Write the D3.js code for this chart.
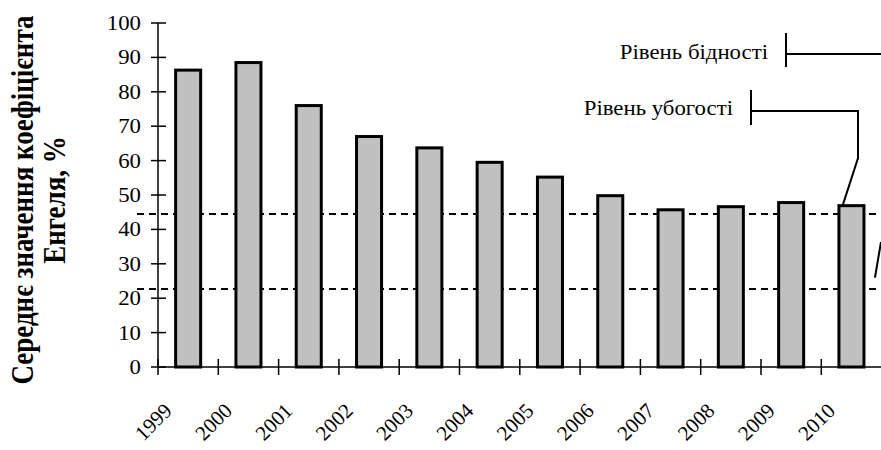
<!DOCTYPE html>
<html>
<head>
<meta charset="utf-8">
<script src="https://cdn.jsdelivr.net/npm/d3@7"></script>
</head>
<body style="margin:0; background:#fff">
<svg id="chart" width="881" height="450"></svg>
<script>
// data
let years = ["1999","2000","2001","2002","2003","2004","2005","2006","2007","2008","2009","2010"];
let engel = [86.3, 88.5, 76, 67, 63.7, 59.5, 55.2, 49.8, 45.7, 46.6, 47.8, 46.9];
let yTicks = [0,10,20,30,40,50,60,70,80,90,100];
let levels = [44.5, 22.7]; // dashed lines
let levelNames = ["Рівень бідності", "Рівень убогості"];

let serif = "'Liberation Serif', 'Times New Roman', Tinos";
let sx = 1.14; // the original picture is a bit stretched sideways

let svg = d3.select("#chart");

let x = d3.scaleBand()
    .domain(years)
    .range([158, 881.6])
    .paddingInner(0.585)
    .paddingOuter(0.2925);

let y = d3.scaleLinear()
    .domain([0, 100])
    .range([367, 23]);

let gap = (x.step() - x.bandwidth()) / 2;

// dashed level lines (under the bars)
svg.selectAll(".level")
    .data(levels)
    .enter().append("line")
    .attr("class", "level")
    .attr("x1", 137).attr("x2", 881)
    .attr("y1", d => y(d)).attr("y2", d => y(d))
    .attr("stroke", "#000")
    .attr("stroke-width", 2)
    .attr("stroke-dasharray", "7,5");

// bars
svg.selectAll(".bar")
    .data(engel)
    .enter().append("rect")
    .attr("class", "bar")
    .attr("x", (d, i) => x(years[i]))
    .attr("width", x.bandwidth())
    .attr("y", d => y(d))
    .attr("height", d => y(0) - y(d))
    .attr("fill", "#c0c0c0")
    .attr("stroke", "#000")
    .attr("stroke-width", 3);

// y axis
svg.append("line")
    .attr("x1", 158).attr("x2", 158)
    .attr("y1", y(100)).attr("y2", y(0))
    .attr("stroke", "#000").attr("stroke-width", 1.5);

svg.selectAll(".ytick")
    .data(yTicks)
    .enter().append("line")
    .attr("x1", 151).attr("x2", 166)
    .attr("y1", d => y(d)).attr("y2", d => y(d))
    .attr("stroke", "#000").attr("stroke-width", 1.5);

svg.selectAll(".ylab")
    .data(yTicks)
    .enter().append("text")
    .attr("transform", d => "translate(141," + (y(d) + 7) + ") scale(" + sx + ",1)")
    .attr("text-anchor", "end")
    .attr("font-size", 20)
    .style("font-family", serif)
    .text(d => d);

// x axis
svg.append("line")
    .attr("x1", 158).attr("x2", 881)
    .attr("y1", y(0)).attr("y2", y(0))
    .attr("stroke", "#000").attr("stroke-width", 1.5);

svg.selectAll(".xtick")
    .data(years)
    .enter().append("line")
    .attr("x1", d => x(d) - gap).attr("x2", d => x(d) - gap)
    .attr("y1", y(0) - 8).attr("y2", y(0) + 8)
    .attr("stroke", "#000").attr("stroke-width", 1.5);

svg.selectAll(".xlab")
    .data(years)
    .enter().append("text")
    .attr("transform", d => "translate(" + (x(d) + x.bandwidth() / 2 - 15) + ",412) rotate(-45)")
    .attr("text-anchor", "end")
    .attr("font-size", 21)
    .style("font-family", serif)
    .text(d => d);

// y title
let title = svg.append("text")
    .attr("transform", "translate(33,200) scale(" + sx + ",1) rotate(-90)")
    .attr("text-anchor", "middle")
    .attr("font-size", 27)
    .attr("font-weight", "bold")
    .style("font-family", serif);
title.append("tspan").attr("x", 0).attr("y", 0).text("Середнє значення коефіцієнта");
title.append("tspan").attr("x", 0).attr("y", 28).text("Енгеля, %");

// annotations
let last = years[years.length - 1];
svg.append("text")
    .attr("transform", "translate(768,59) scale(" + sx + ",1)")
    .attr("text-anchor", "end")
    .attr("font-size", 20)
    .style("font-family", serif)
    .text(levelNames[0]);
svg.append("text")
    .attr("transform", "translate(733,115) scale(" + sx + ",1)")
    .attr("text-anchor", "end")
    .attr("font-size", 20)
    .style("font-family", serif)
    .text(levelNames[1]);

let leader = d3.line();
let lines = [
    [[786, 33], [786, 67]],
    [[786, 54], [881, 54]],
    [[881, 242], [x(last) + x.bandwidth() + 11, y(26)]],
    [[751, 90], [751, 125]],
    [[751, 111], [858, 111], [858, 158], [x(last) + 4, y(engel[engel.length - 1]) - 1]]
];
svg.selectAll(".leader")
    .data(lines)
    .enter().append("path")
    .attr("d", leader)
    .attr("fill", "none")
    .attr("stroke", "#000")
    .attr("stroke-width", 2);
</script>
</body>
</html>
